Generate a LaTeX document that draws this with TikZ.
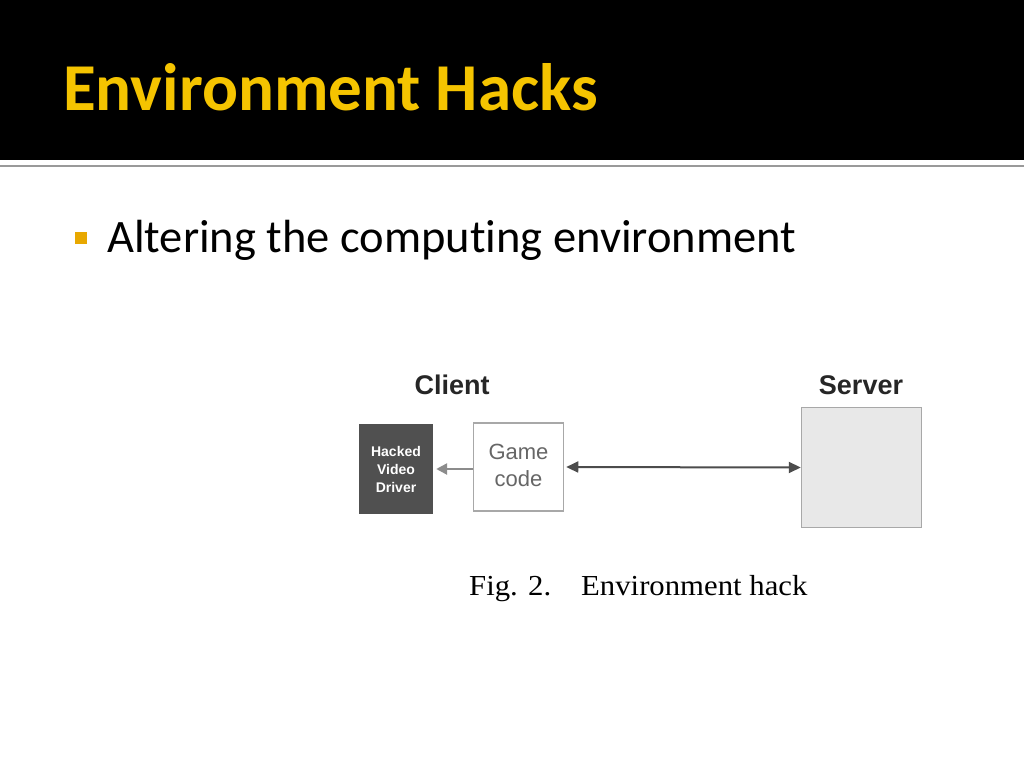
\documentclass[tikz,border=0pt]{standalone}
\usepackage{fontspec}
\setmainfont{Carlito}[RawFeature={-liga}]
\newfontfamily\arialf{Liberation Sans}
\newfontfamily\timesf[FakeStretch=1.06]{Liberation Serif}
\usetikzlibrary{arrows.meta}
\definecolor{gold}{HTML}{F5C400}
\definecolor{bulletgold}{HTML}{E8A800}
\definecolor{drvgray}{HTML}{505050}
\definecolor{boxline}{HTML}{A8A8A8}
\definecolor{srvfill}{HTML}{E8E8E8}
\tikzset{
  boxnode/.style={draw=boxline, line width=1.5pt, inner sep=0pt},
  lbl/.style={font=\arialf\bfseries\fontsize{27}{30}\selectfont, text=black!85},
}
\begin{document}
\begin{tikzpicture}[x=1pt,y=-1pt]
\useasboundingbox (0,0) rectangle (1024,768);
\fill[white] (0,0) rectangle (1024,768);
\fill[black] (0,0) rectangle (1024,160);
\draw[black!40, line width=1.8pt] (0,166) -- (1024,166);
\node[anchor=base west, inner sep=0pt, text=gold, font=\bfseries\fontsize{67}{78}\selectfont] (title) at (63,110) {Environment Hacks};
\node[fill=bulletgold, minimum size=12pt, inner sep=0pt] (bul) at (81,238) {};
\node[anchor=base west, inner sep=0pt, font=\fontsize{46.5}{56}\selectfont] (btext) at (107,252) {Altering the computing environment};
\node[lbl] (client) at (452,385) {Client};
\node[lbl] (server) at (861,385) {Server};
\node[fill=drvgray, minimum width=74pt, minimum height=90pt, inner sep=0pt, text=white, align=center, font=\arialf\bfseries\fontsize{14}{18}\selectfont] (drv) at (396,469) {Hacked\\Video\\Driver};
\node[boxnode, fill=white, minimum width=90pt, minimum height=88pt, text=black!60, align=center, font=\arialf\fontsize{22}{28}\selectfont] (game) at (518.5,467) {\raisebox{-3pt}{\begin{tabular}{@{}c@{}}Game\\[-1pt]code\end{tabular}}};
\node[boxnode, fill=srvfill, minimum width=120pt, minimum height=120pt] (srv) at (861.5,467.5) {};
\draw[black!45, line width=2.5pt, shorten >=3pt, -{Triangle[length=11pt,width=11pt]}] (game.west |- drv.east) -- (drv.east);
\draw[black!70, line width=2pt, {Triangle[length=12pt,width=11pt]}-{Triangle[length=12pt,width=11pt]}] (game.east) ++(2,0) -- (srv.west);
\node[anchor=base west, inner sep=0pt, font=\timesf\fontsize{29}{32}\selectfont] (cap) at (469,595) {Fig. 2.\hspace{30pt}Environment hack};
\end{tikzpicture}
\end{document}
